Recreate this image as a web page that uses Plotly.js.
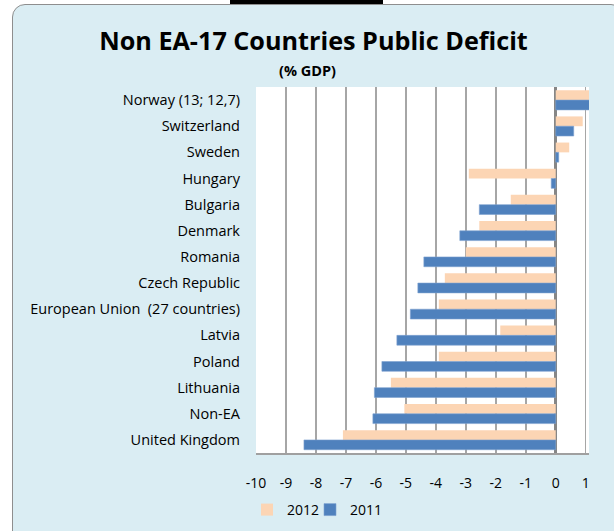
<!DOCTYPE html>
<html><head><meta charset="utf-8">
<script src="https://cdn.plot.ly/plotly-3.0.1.min.js"></script>
<style>
html,body{margin:0;padding:0;background:#fff;width:614px;height:531px;overflow:hidden;}
#frame{position:absolute;left:12px;top:4px;width:612px;height:540px;background:#DAEDF3;border:1.5px solid #8e8e8e;border-radius:13px;box-sizing:border-box;}
#topbar{position:absolute;left:230px;top:0;width:153px;height:3.5px;background:#000;}
#chart{position:absolute;left:0;top:0;width:614px;height:531px;}
</style></head><body>
<div id="frame"></div><div id="topbar"></div><div id="chart"></div>
<script>
const categories = ["Norway (13; 12,7)", "Switzerland", "Sweden", "Hungary", "Bulgaria", "Denmark", "Romania", "Czech Republic", "European Union  (27 countries)", "Latvia", "Poland", "Lithuania", "Non-EA", "United Kingdom"];
const values2012 = [13, 0.9, 0.45, -2.9, -1.5, -2.55, -3.0, -3.7, -3.9, -1.85, -3.9, -5.5, -5.05, -7.1];
const values2011 = [12.7, 0.6, 0.1, -0.15, -2.55, -3.2, -4.4, -4.6, -4.85, -5.3, -5.8, -6.05, -6.1, -8.4];
const xTickValues = [-10, -9, -8, -7, -6, -5, -4, -3, -2, -1, 0, 1];
const seriesNames = ["2012", "2011"];

const FONT = "'Open Sans', Lato, sans-serif";
const traces = [
  {type: "bar", orientation: "h", name: seriesNames[0], y: categories, x: values2012, legend: "legend",
   marker: {color: "#FCD5B4", line: {width: 0}}, cliponaxis: true, hoverinfo: "x+y"},
  {type: "bar", orientation: "h", name: seriesNames[1], y: categories, x: values2011, legend: "legend2",
   marker: {color: "#4F81BD", line: {color: "#7EA1D0", width: 0.6}}, cliponaxis: true, hoverinfo: "x+y"}
];
const legendY = 1 - 510/531;
const layout = {
  width: 614, height: 531,
  paper_bgcolor: "rgba(0,0,0,0)", plot_bgcolor: "#FFFFFF",
  margin: {l: 256, r: 25, t: 87, b: 78, pad: 0, autoexpand: false},
  font: {family: FONT, color: "#000", size: 14},
  title: {text: "<b>Non EA-17 Countries Public Deficit</b>", xref: "container", yref: "container",
          x: 313.5/614, xanchor: "center", y: 1 - 41/531, yanchor: "middle",
          font: {family: FONT, size: 25.2, color: "#000"}},
  annotations: [{text: "<b>(% GDP)</b>", xref: "paper", yref: "paper", x: (307-256)/333, y: (453-70)/366,
                 xanchor: "center", yanchor: "middle", showarrow: false, font: {family: FONT, size: 14.5, color: "#000"}}],
  barmode: "group", bargap: 0.25, bargroupgap: 0,
  xaxis: {range: [-10, 1.11], tickvals: xTickValues, ticktext: xTickValues.map(String),
          showgrid: true, gridcolor: "#A6A6A6", gridwidth: 1.5,
          zeroline: true, zerolinecolor: "#868686", zerolinewidth: 2.5,
          showline: true, linecolor: "#A0A0A0", linewidth: 1.5, ticks: "",
          ticklabelstandoff: 17, tickfont: {family: FONT, size: 14}, fixedrange: true},
  yaxis: {autorange: "reversed", type: "category", showgrid: false, zeroline: false, showline: false,
          ticks: "", ticklabelstandoff: 15, tickfont: {family: FONT, size: 14.5}, fixedrange: true},
  showlegend: true,
  legend: {orientation: "h", xref: "container", yref: "container", x: 247/614, xanchor: "left", y: legendY, yanchor: "middle",
           bgcolor: "rgba(0,0,0,0)", font: {family: FONT, size: 14}},
  legend2: {orientation: "h", xref: "container", yref: "container", x: 310/614, xanchor: "left", y: legendY, yanchor: "middle",
           bgcolor: "rgba(0,0,0,0)", font: {family: FONT, size: 14}}
};
Plotly.newPlot("chart", traces, layout, {displayModeBar: false, staticPlot: true});
</script>
</body></html>
